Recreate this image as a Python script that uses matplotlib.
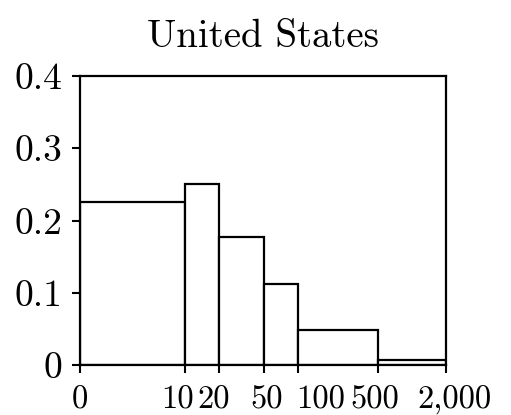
import numpy as np
import matplotlib
matplotlib.use("Agg")
import matplotlib.pyplot as plt
from matplotlib.transforms import ScaledTranslation

plt.rcParams['font.family'] = 'cmr10'
plt.rcParams['axes.formatter.use_mathtext'] = True

# bin edges (income bracket) and share in each bin
edges = [0, 10, 20, 50, 100, 500, 2000]
shares = [0.225, 0.251, 0.177, 0.112, 0.048, 0.007]
xlabels = ['0', '10', '20', '50', '100', '500', '2,000']
yticks = [0, 0.1, 0.2, 0.3, 0.4]
ylabels = ['0', '0.1', '0.2', '0.3', '0.4']

# hand nudges of the x tick labels (points) so they don't collide
label_shift = [0, -5.4, -4.0, 1.8, 16.1, -2.1, 6.3]

fig = plt.figure(figsize=(5.11, 4.15), dpi=100)
ax = fig.add_axes([80/511, 50/415, 366/511, 289/415])
# linear below 10, log above
ax.set_xscale('symlog', linthresh=10, linscale=0.8325)

lefts = np.array(edges[:-1])
widths = np.diff(edges)
ax.bar(lefts, shares, width=widths, align='edge', color='white',
       edgecolor='black', linewidth=1.6)

ax.set_xlim(0, 2000)
ax.set_ylim(0, 0.4)
ax.set_xticks(edges)
ax.set_xticklabels(xlabels)
ax.set_yticks(yticks)
ax.set_yticklabels(ylabels)
ax.minorticks_off()
ax.tick_params(direction='out', length=6, width=1.5)
ax.tick_params(axis='y', labelsize=27, pad=7)
ax.tick_params(axis='x', labelsize=23.5, pad=9)
for s in ax.spines.values():
    s.set_linewidth(1.6)

for lab, dx in zip(ax.get_xticklabels(), label_shift):
    lab.set_transform(lab.get_transform() + ScaledTranslation(dx/72, 0, fig.dpi_scale_trans))

ax.set_title('United States', fontsize=28, pad=21)

fig.savefig('out.png', dpi=100)
